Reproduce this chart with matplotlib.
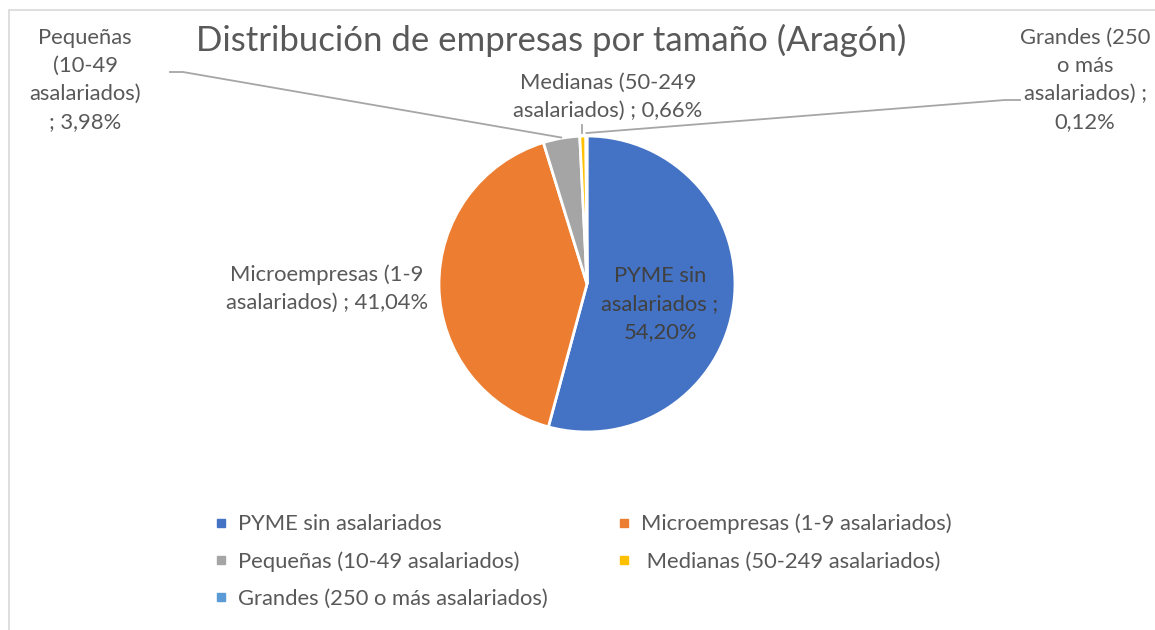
import numpy as np
import matplotlib.pyplot as plt
from matplotlib.patches import Rectangle
from matplotlib.lines import Line2D

plt.rcParams['font.family'] = ['Lato', 'DejaVu Sans']

# Datos
categorias = ["PYME sin asalariados", "Microempresas (1-9 asalariados)",
              "Pequeñas (10-49 asalariados)", " Medianas (50-249 asalariados)",
              "Grandes (250 o más asalariados)"]
porcentajes = [54.20, 41.04, 3.98, 0.66, 0.12]
colores = ["#4472C4", "#ED7D31", "#A5A5A5", "#FFC000", "#5B9BD5"]
etiquetas = ["PYME sin\nasalariados ;\n54,20%",
             "Microempresas (1-9\nasalariados) ; 41,04%",
             "Pequeñas\n(10-49\nasalariados)\n; 3,98%",
             "Medianas (50-249\nasalariados) ; 0,66%",
             "Grandes (250\no más\nasalariados) ;\n0,12%"]
titulo = "Distribución de empresas por tamaño (Aragón)"

W, H = 1155, 630
fig = plt.figure(figsize=(W / 100, H / 100), dpi=100)
ax = fig.add_axes([0, 0, 1, 1])

# marco del gráfico
ax.add_patch(Rectangle((9, -20), W + 20, H - 10 + 20, fill=False,
                       edgecolor="#D9D9D9", linewidth=1.2))

cx, cy, r = 587, H - 284, 148
wedges, _ = ax.pie(porcentajes, colors=colores, startangle=90, counterclock=False,
                   center=(cx, cy), radius=r,
                   wedgeprops=dict(edgecolor="white", linewidth=2))
ax.set_xlim(0, W)
ax.set_ylim(0, H)
ax.set_aspect("auto")
ax.axis("off")

def borde(i, k=1.0):
    w = wedges[i]
    ang = np.deg2rad((w.theta1 + w.theta2) / 2)
    return cx + k * r * np.cos(ang), cy + k * r * np.sin(ang)

txt = "#595959"
fs = 15.8
ls = 1.5
ax.text(551, H - 40, titulo, ha="center", va="center", fontsize=25, color=txt)

# etiquetas de datos
ax.text(660, H - 304, etiquetas[0], ha="center", va="center", fontsize=fs,
        color="#404040", linespacing=ls)
ax.text(327, H - 289, etiquetas[1], ha="center", va="center", fontsize=fs,
        color=txt, linespacing=ls)
ax.text(85, H - 80, etiquetas[2], ha="center", va="center", fontsize=fs,
        color=txt, linespacing=ls)
ax.text(608, H - 97, etiquetas[3], ha="center", va="center", fontsize=fs,
        color=txt, linespacing=ls)
ax.text(1085, H - 80, etiquetas[4], ha="center", va="center", fontsize=fs,
        color=txt, linespacing=ls)

# líneas guía
lc = "#A6A6A6"
x2, y2 = borde(2, 1.005)
ax.plot([170, 183, x2], [H - 72, H - 72, y2], color=lc, lw=1.3)
x3, y3 = borde(3, 1.02)
ax.plot([x3 - 1, x3 - 1], [H - 125, y3], color=lc, lw=1.3)
x4, y4 = borde(4, 1.02)
ax.plot([x4, 1005, 1020], [y4, H - 100, H - 100], color=lc, lw=1.3)

# leyenda (orden por filas)
orden = [0, 2, 4, 1, 3]
handles = [Line2D([], [], marker="s", linestyle="none", markersize=6,
                  markerfacecolor=colores[i], markeredgecolor=colores[i]) for i in orden]
leg = ax.legend(handles, [categorias[i] for i in orden], loc="upper left", ncol=2,
                frameon=False, bbox_to_anchor=(195 / W, 1 - 494 / H), fontsize=fs,
                labelcolor=txt, handlelength=0.6, handletextpad=0.45,
                columnspacing=3.2, labelspacing=0.78)

fig.savefig("out.png", dpi=100)
